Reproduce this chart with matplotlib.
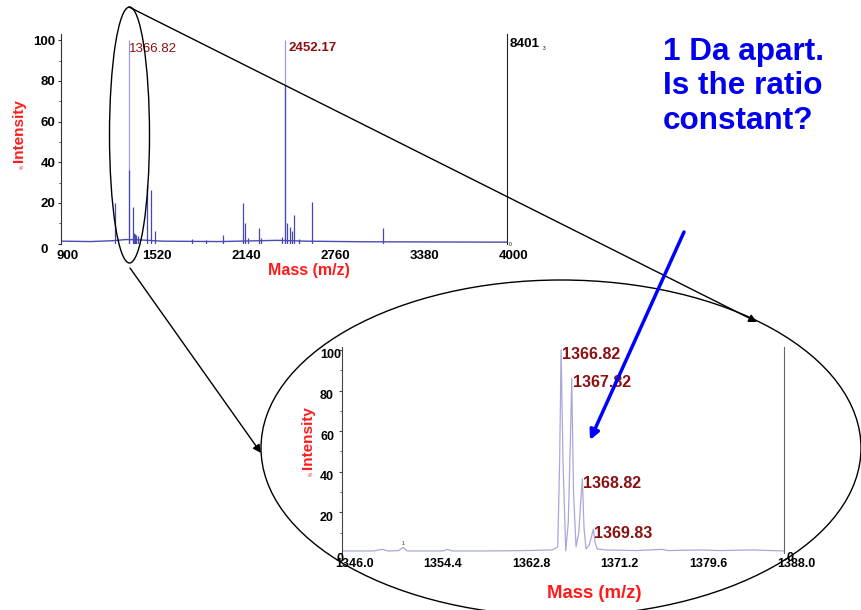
import numpy as np
import matplotlib
matplotlib.use("Agg")
import matplotlib.pyplot as plt
from matplotlib.patches import Ellipse
from matplotlib.transforms import ScaledTranslation

plt.rcParams['font.family'] = ['Liberation Sans', 'DejaVu Sans']

# full MALDI spectrum, stick peaks (m/z, % intensity)
full_mz = [1269, 1366.82, 1368.8, 1396, 1406, 1414, 1421, 1429, 1495, 1524, 1547,
           1807, 1907, 2020, 2159, 2178, 2197, 2273, 2287, 2431, 2452.17, 2453.2,
           2471, 2486, 2500, 2514, 2552, 2642, 3138]
full_int = [20.2, 100, 36, 18, 5, 4.5, 4, 3.5, 28.6, 26.4, 6.4,
            2.5, 1.7, 4.3, 20.2, 10.2, 3, 7.7, 3, 3.3, 100, 78,
            10, 8, 6.4, 14.2, 2.2, 20.6, 7.7]
full_base_mz = [900, 1100, 1250, 1350, 1450, 1600, 2000, 2400, 2600, 3000, 3500, 4000]
full_base_int = [1.2, 1.0, 1.4, 2.0, 1.8, 1.2, 1.0, 1.6, 1.2, 0.9, 0.8, 0.7]
full_labels = [(1366.82, 100, "1366.82"), (2452.17, 100, "2452.17")]
full_ticks = [900, 1520, 2140, 2760, 3380, 4000]

# zoomed isotope cluster, profile data
zoom_mz = [1346.0, 1349.0, 1349.8, 1350.4, 1351.4, 1351.8, 1352.2, 1355.6, 1356.0, 1356.5,
           1360.0, 1363.5, 1366.0, 1366.5, 1366.68, 1366.82, 1367.0, 1367.26, 1367.5,
           1367.7, 1367.83, 1368.0, 1368.24, 1368.5, 1368.72, 1368.84, 1369.0, 1369.19,
           1369.5, 1369.75, 1369.89, 1370.05, 1370.25, 1371.0, 1374.0, 1376.4, 1377.0,
           1380.0, 1382.0, 1385.0, 1388.0]
zoom_int = [1.0, 1.0, 1.8, 1.0, 1.2, 2.8, 1.0, 1.0, 1.8, 1.0,
            1.0, 1.2, 1.5, 3, 45, 100, 45, 1.0, 15,
            55, 86, 30, 3, 10, 28, 36.5, 12, 2,
            4, 9, 11.8, 5, 2, 1.5, 1.2, 1.8, 1.2,
            1.5, 1.2, 1.5, 1.0]
zoom_peaks = [1366.82, 1367.82, 1368.82, 1369.83]
zoom_heights = [100, 86, 36.5, 11.8]
zoom_ticks = [1346.0, 1354.4, 1362.8, 1371.2, 1379.6, 1388.0]

brown = '#8b1010'
red = '#ff1a1a'
W, H = 862, 610

fig = plt.figure(figsize=(W / 100, H / 100), dpi=100)


def px_axes(x0, y0, x1, y1):
    # axes box from pixel corners (top-left origin)
    return fig.add_axes([x0 / W, 1 - y1 / H, (x1 - x0) / W, (y1 - y0) / H])


def shift(labels, dx, dy):
    off = ScaledTranslation(dx / 100, -dy / 100, fig.dpi_scale_trans)
    for lbl in labels:
        lbl.set_transform(lbl.get_transform() + off)


# ---- overview spectrum ----
ax1 = px_axes(61.5, 33.6, 507.3, 243.6)
ax1.set_xlim(900, 4000)
ax1.set_ylim(0, 103.3)
ax1.plot(full_base_mz, full_base_int, color='#4a4ab4', lw=1.0)
colors = ['#9a9ae0' if v > 90 else '#4646b4' for v in full_int]
ax1.vlines(full_mz, 0, full_int, colors=colors, lw=0.9)
ax1.annotate(full_labels[0][2], (full_labels[0][0], full_labels[0][1]),
             xytext=(0, -2), textcoords='offset points', va='top', ha='left',
             color=brown, fontsize=9.5)
ax1.annotate(full_labels[1][2], (full_labels[1][0], full_labels[1][1]),
             xytext=(2.5, -1), textcoords='offset points', va='top', ha='left',
             color=brown, fontsize=9.5, fontweight='bold')
for s in ['top', 'bottom']:
    ax1.spines[s].set_visible(False)
ax1.spines['left'].set_color('#333333')
ax1.spines['right'].set_color('#222222')
ax1.set_xticks(full_ticks)
ax1.set_xticklabels([str(t) for t in full_ticks], fontsize=9.5, fontweight='bold')
ax1.set_yticks([0, 20, 40, 60, 80, 100])
ax1.set_yticklabels(['', '20', '40', '60', '80', '100'], fontsize=9.5, fontweight='bold')
ax1.set_yticks(np.arange(0, 101, 10), minor=True)
ax1.tick_params(axis='x', length=0, pad=4.5)
ax1.tick_params(axis='y', which='major', length=2.5, pad=2, color='#333333')
ax1.tick_params(axis='y', which='minor', length=1.5, color='#333333')
shift(ax1.get_xticklabels(), 6, 0)

# ---- zoomed isotope cluster ----
ax2 = px_axes(342, 347.3, 784, 553)
ax2.set_xlim(1346.0, 1388.0)
ax2.set_ylim(0, 101.3)
ax2.plot(zoom_mz, zoom_int, color='#a8a8dc', lw=0.9)
for mz, h in zip(zoom_peaks, zoom_heights):
    ax2.annotate(f"{mz:.2f}", (mz, h), xytext=(0.8, -3), textcoords='offset points',
                 va='center', ha='left', color=brown, fontsize=11.5, fontweight='bold')
ax2.text(1351.8, 3.5, "1", color=brown, fontsize=4, ha='center', va='bottom')
for s in ['top', 'bottom']:
    ax2.spines[s].set_visible(False)
ax2.spines['left'].set_color('#444444')
ax2.spines['right'].set_color('#666666')
ax2.set_xticks(zoom_ticks)
ax2.set_xticklabels([f"{t:.1f}" for t in zoom_ticks], fontsize=9, fontweight='bold')
ax2.set_yticks([0, 20, 40, 60, 80, 100])
ax2.set_yticklabels(['', '20', '40', '60', '80', '100'], fontsize=9, fontweight='bold')
ax2.set_yticks(np.arange(0, 101, 10), minor=True)
ax2.tick_params(axis='x', length=0, pad=3.5)
ax2.tick_params(axis='y', which='major', length=2.2, pad=13.6, color='#444444')
ax2.tick_params(axis='y', which='minor', length=1.5, color='#444444')
for lbl in ax2.get_yticklabels():
    lbl.set_ha('left')
shift(ax2.get_xticklabels(), 12.5, 0)
shift(ax2.get_yticklabels(), 0, 4)

# ---- overlay in pixel coordinates ----
ov = fig.add_axes([0, 0, 1, 1])
ov.set_xlim(0, W)
ov.set_ylim(H, 0)
ov.axis('off')
ov.patch.set_alpha(0)

bold = dict(fontweight='bold')
ov.text(44.3, 250, "0", fontsize=9.5, ha='center', va='center', **bold)
ov.text(510, 244, "0", fontsize=3.5, ha='center', va='center')
ov.text(510, 44, "8401", fontsize=9.7, ha='left', va='center', **bold)
ov.text(543, 48, "3", fontsize=3.5, ha='left', va='center')
ov.text(309, 270, "Mass (m/z)", color=red, fontsize=11.5, ha='center', va='center', **bold)
ov.text(19.5, 131, "Intensity", color=red, fontsize=11, rotation=90,
        ha='center', va='center', **bold)
ov.text(22, 167, "%", color=red, fontsize=3.5, rotation=90, ha='center', va='center')

ov.text(340, 559, "0", fontsize=9, ha='center', va='center', **bold)
ov.text(790, 558, "0", fontsize=9, ha='center', va='center', **bold)
ov.text(594.5, 593, "Mass (m/z)", color=red, fontsize=13.4, ha='center', va='center', **bold)
ov.text(308, 437.5, "Intensity", color=red, fontsize=11, rotation=90,
        ha='center', va='center', **bold)
ov.text(311, 474, "%", color=red, fontsize=3.5, rotation=90, ha='center', va='center')

ov.text(662.7, 36.7, "1 Da apart.\nIs the ratio\nconstant?", color='#0000ee',
        fontsize=22.7, ha='left', va='top', linespacing=1.2, **bold)

# zoom-in callouts
ov.add_patch(Ellipse((129.5, 135), 40, 256, fill=False, ec='black', lw=1.0))
ov.add_patch(Ellipse((561, 448), 600, 336, fill=False, ec='black', lw=1.0))
arrow_k = dict(arrowstyle='-|>', color='black', lw=1.0, mutation_scale=12,
               shrinkA=0, shrinkB=0)
ov.annotate('', xy=(757, 322), xytext=(129, 7), arrowprops=arrow_k)
ov.annotate('', xy=(261, 453), xytext=(130, 268), arrowprops=arrow_k)
ov.annotate('', xy=(590, 440), xytext=(684, 232),
            arrowprops=dict(arrowstyle='-|>', color='#0000ff', lw=2.5,
                            mutation_scale=14, shrinkA=0, shrinkB=0))

fig.savefig("out.png", dpi=100)
